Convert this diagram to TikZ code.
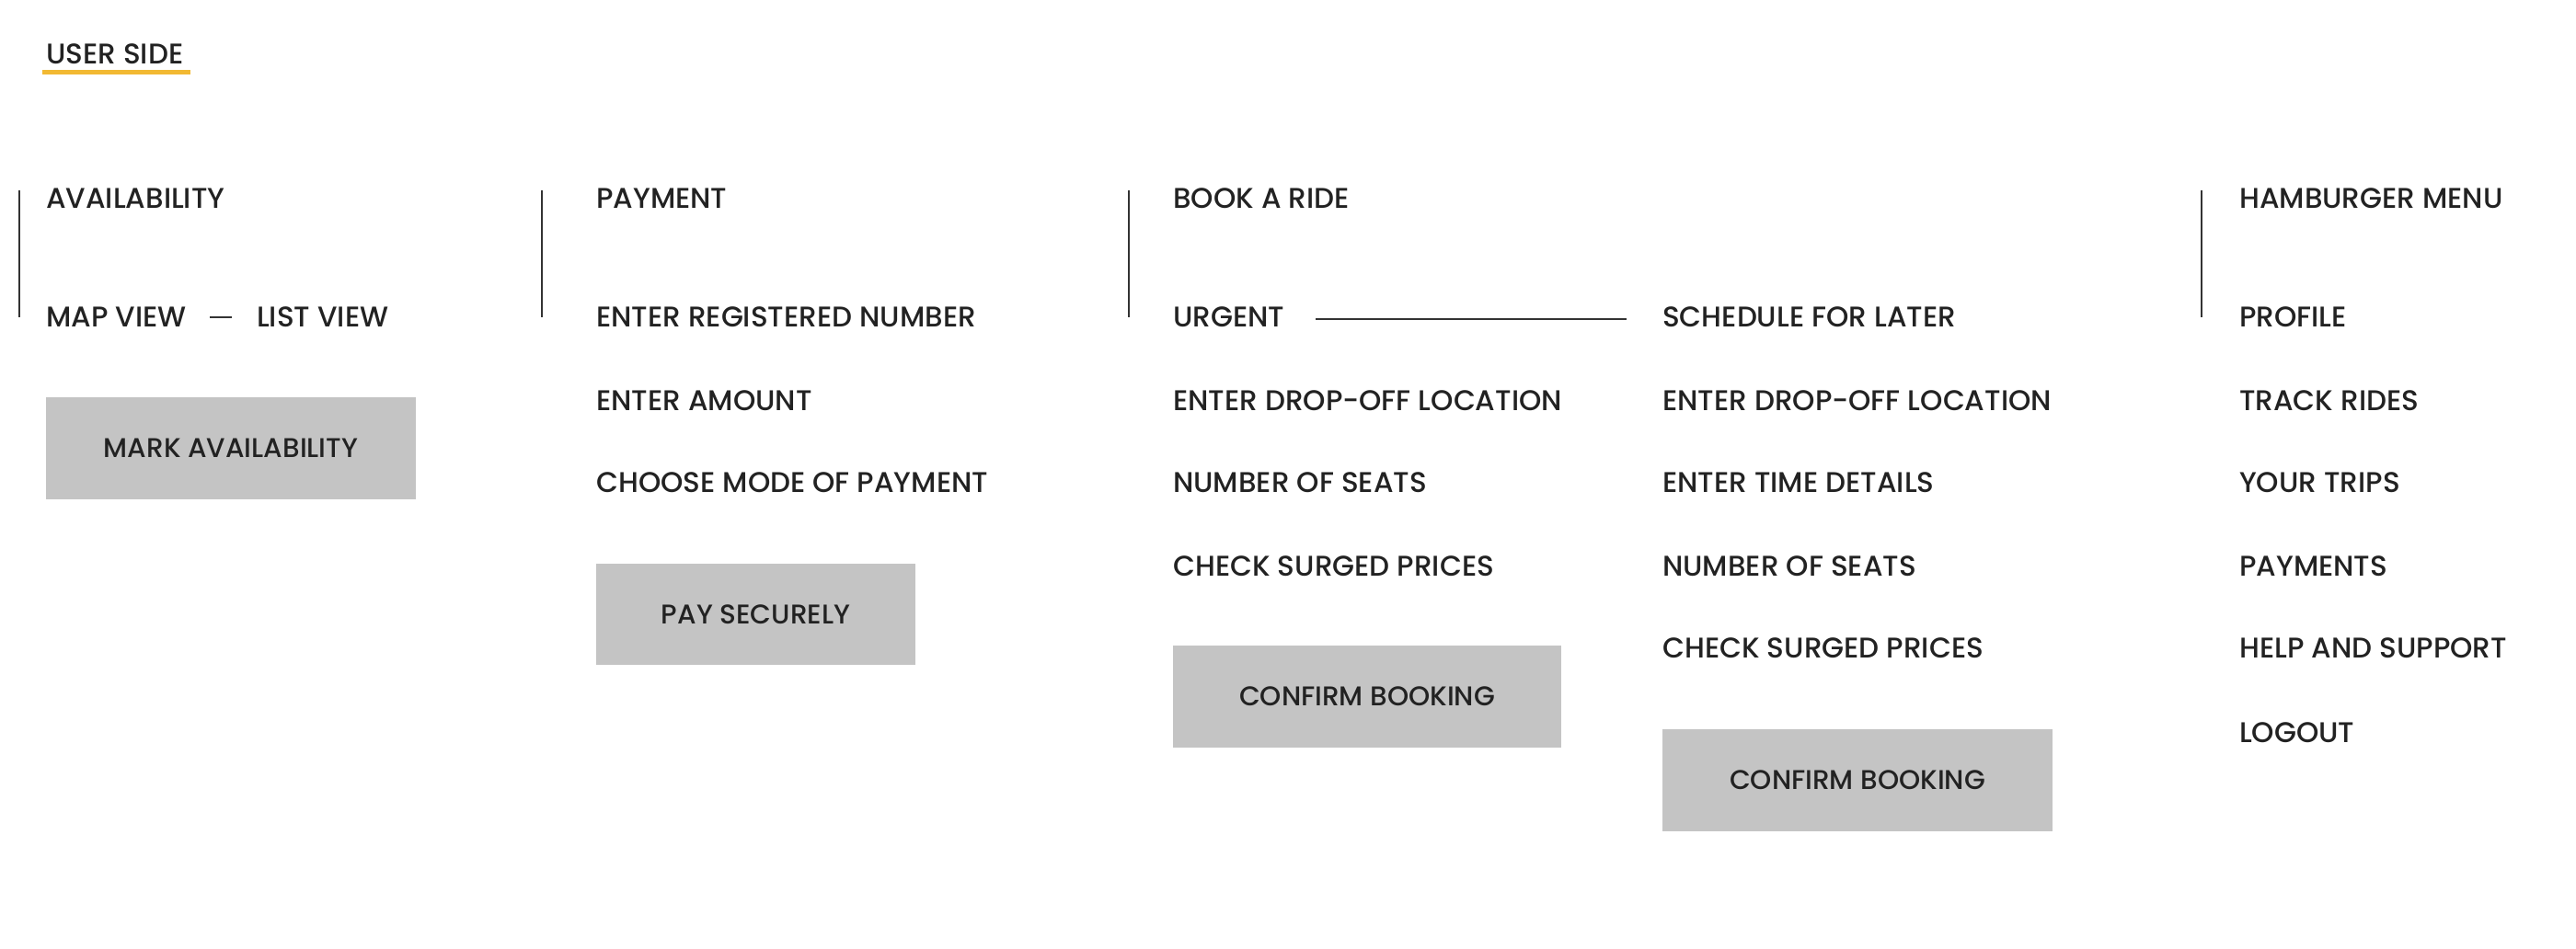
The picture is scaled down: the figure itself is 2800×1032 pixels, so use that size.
\documentclass[tikz,border=0pt]{standalone}
\usepackage{fontspec}
\setmainfont{Poppins Medium}
\definecolor{txt}{HTML}{222222}
\definecolor{btn}{HTML}{C4C4C4}
\definecolor{accent}{HTML}{F2B933}
\definecolor{rule}{HTML}{333333}
\begin{document}
\begin{tikzpicture}[x=1pt,y=-1pt,
  lbl/.style={anchor=west,inner sep=0pt,text=txt,font=\fontsize{31}{36}\selectfont},
  btnbox/.style={fill=btn,draw=none,inner sep=0pt,text=txt,font=\fontsize{29.5}{34}\selectfont},
  sep/.style={draw=rule,line width=2pt},
  link/.style={draw=rule,line width=2pt}]
\useasboundingbox (0,0) rectangle (2800,1032);
% title
\node[lbl] (title) at (50,59) {USER SIDE};
\draw[accent,line width=5pt] (46,79) -- (207,79);
% separators
\coordinate (s1t) at (21,207); \coordinate (s1b) at (21,345);
\coordinate (s2t) at (589,207); \coordinate (s2b) at (589,345);
\coordinate (s3t) at (1227,207); \coordinate (s3b) at (1227,345);
\coordinate (s4t) at (2393,207); \coordinate (s4b) at (2393,345);
\draw[sep] (s1t) -- (s1b);
\draw[sep] (s2t) -- (s2b);
\draw[sep] (s3t) -- (s3b);
\draw[sep] (s4t) -- (s4b);
% availability
\node[lbl] (avail) at (50,216) {AVAILABILITY};
\node[lbl] (map) at (50,345) {MAP VIEW};
\node[lbl] (list) at (279,345) {LIST VIEW};
\draw[link,shorten <=25pt,shorten >=27pt] (map.east) -- (list.west);
\node[btnbox,minimum width=402pt,minimum height=111pt] (mark) at (251,487.5) {MARK AVAILABILITY};
% payment
\node[lbl] (pay) at (648,216) {PAYMENT};
\node[lbl] (reg) at (648,345) {ENTER REGISTERED NUMBER};
\node[lbl] (amt) at (648,436) {ENTER AMOUNT};
\node[lbl] (mode) at (648,525) {CHOOSE MODE OF PAYMENT};
\node[btnbox,minimum width=347pt,minimum height=110pt] (secure) at (821.5,668) {PAY SECURELY};
% book a ride
\node[lbl] (book) at (1275,216) {BOOK A RIDE};
\node[lbl] (urgent) at (1275,345) {URGENT};
\node[lbl] (udrop) at (1275,436) {ENTER DROP-OFF LOCATION};
\node[lbl] (useats) at (1275,525) {NUMBER OF SEATS};
\node[lbl] (usurge) at (1275,616) {CHECK SURGED PRICES};
\node[btnbox,minimum width=422pt,minimum height=111pt] (uconf) at (1486,757.5) {CONFIRM BOOKING};
\node[lbl] (later) at (1807,345) {SCHEDULE FOR LATER};
\node[lbl] (ldrop) at (1807,436) {ENTER DROP-OFF LOCATION};
\node[lbl] (ltime) at (1807,525) {ENTER TIME DETAILS};
\node[lbl] (lseats) at (1807,616) {NUMBER OF SEATS};
\node[lbl] (lsurge) at (1807,705) {CHECK SURGED PRICES};
\node[btnbox,minimum width=424pt,minimum height=111pt] (lconf) at (2019,848.5) {CONFIRM BOOKING};
\draw[link,line width=1.5pt,shorten <=34pt,shorten >=39pt] ([yshift=-2pt]urgent.east) -- ([yshift=-2pt]later.west);
% hamburger
\node[lbl] (menu) at (2434,216) {HAMBURGER MENU};
\node[lbl] (profile) at (2434,345) {PROFILE};
\node[lbl] (track) at (2434,436) {TRACK RIDES};
\node[lbl] (trips) at (2434,525) {YOUR TRIPS};
\node[lbl] (payments) at (2434,616) {PAYMENTS};
\node[lbl] (help) at (2434,705) {HELP AND SUPPORT};
\node[lbl] (logout) at (2434,797) {LOGOUT};
\end{tikzpicture}
\end{document}
